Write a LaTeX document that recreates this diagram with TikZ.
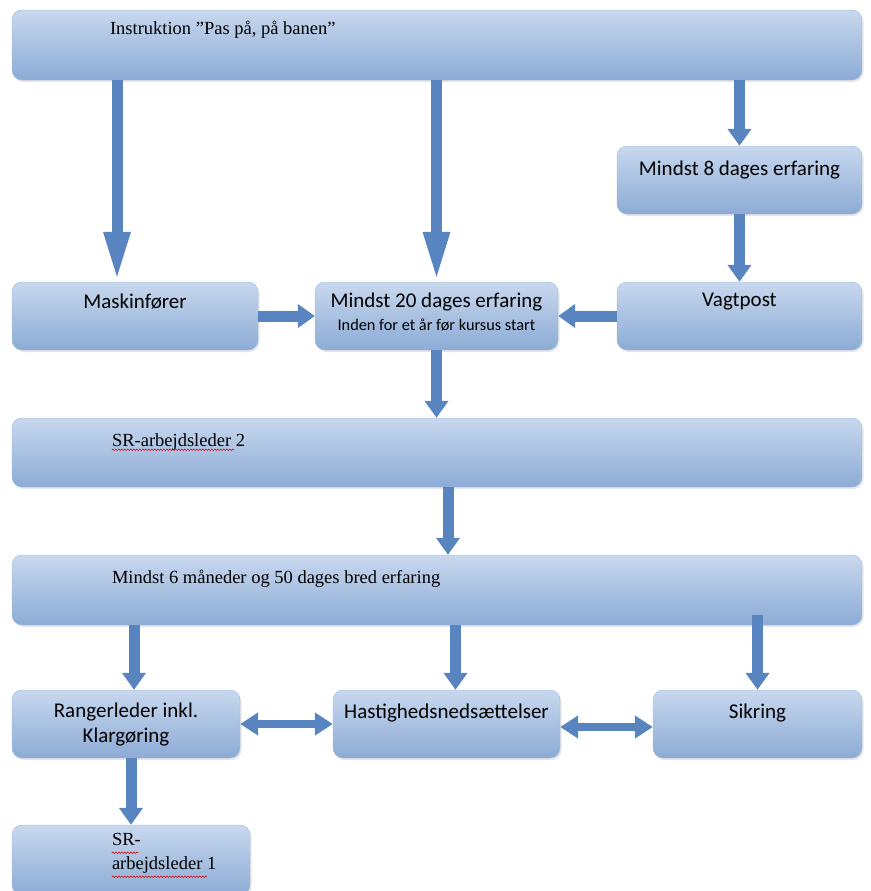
\documentclass[tikz,border=0pt]{standalone}
\usepackage{fontspec}
\setmainfont{Carlito}
\newfontfamily\wordserif{Liberation Serif}
\usetikzlibrary{arrows.meta,positioning,calc,shadows,decorations.pathmorphing}

\definecolor{boxtop}{RGB}{200,216,238}
\definecolor{boxmid}{RGB}{222,231,243}
\definecolor{boxbot}{RGB}{140,171,213}
\definecolor{boxline}{RGB}{160,186,222}
\definecolor{arrowblue}{RGB}{88,132,192}

\tikzstyle{stepbox}=[draw=boxline,rounded corners=10pt,top color=boxtop,middle color=boxmid,bottom color=boxbot,drop shadow={opacity=0.2,shadow xshift=1.5pt,shadow yshift=-2pt}]
\tikzstyle{sanstext}=[font=\fontsize{21}{25}\selectfont,inner sep=0pt,align=center]
\tikzstyle{smalltext}=[font=\fontsize{16.3}{19}\selectfont,inner sep=0pt]
\tikzstyle{seriftext}=[font=\wordserif\fontsize{18.5}{24}\selectfont,inner sep=0pt,anchor=west,align=left]
\tikzstyle{flow}=[draw=arrowblue,line width=11pt,-{Triangle[length=17pt,width=23pt]}]
\tikzstyle{longflow}=[draw=arrowblue,line width=11pt,-{Triangle[length=50pt,width=24pt]}]
\tikzstyle{sideflow}=[draw=arrowblue,line width=8pt,{Triangle[length=18pt,width=22pt]}-{Triangle[length=18pt,width=22pt]}]
\tikzstyle{spellmark}=[draw=red!85!black,line width=0.5pt,decorate,decoration={snake,amplitude=0.8pt,segment length=3pt}]

\begin{document}
\begin{tikzpicture}[x=1pt,y=-1pt]
    \useasboundingbox (0,0) rectangle (870,891);

    % boxes
    \node [stepbox,minimum width=850pt,minimum height=70pt] (instr) at (437,45) {};
    \node [stepbox,minimum width=245pt,minimum height=68pt] (days8) at (739.5,180) {};
    \node [stepbox,minimum width=246pt,minimum height=68pt] (mask) at (135,316) {};
    \node [stepbox,minimum width=243pt,minimum height=68pt] (days20) at (436.5,316) {};
    \node [stepbox,minimum width=245pt,minimum height=68pt] (guard) at (739.5,316) {};
    \node [stepbox,minimum width=850pt,minimum height=69pt] (sr2) at (437,452.5) {};
    \node [stepbox,minimum width=850pt,minimum height=70pt] (broad) at (437,590) {};
    \node [stepbox,minimum width=228pt,minimum height=68pt] (ranger) at (126,724) {};
    \node [stepbox,minimum width=227pt,minimum height=68pt] (speed) at (446.5,724) {};
    \node [stepbox,minimum width=209pt,minimum height=68pt] (secure) at (757.5,724) {};
    \node [stepbox,minimum width=238pt,minimum height=70pt] (sr1) at (131,860) {};

    % texts
    \node [seriftext] (instrtxt) at ($(instr.north west)+(98,20)$) {Instruktion ”Pas på, på banen”};
    \node [sanstext] at ($(days8.north)+(0,24)$) {Mindst 8 dages erfaring};
    \node [sanstext] at ($(mask.north)+(0,20)$) {Maskinfører};
    \node [sanstext] at ($(days20.north)+(0,20)$) {Mindst 20 dages erfaring};
    \node [smalltext] at ($(days20.north)+(0,43)$) {Inden for et år før kursus start};
    \node [sanstext] at ($(guard.north)+(0,20)$) {Vagtpost};
    \node [seriftext] (sr2txt) at ($(sr2.north west)+(100,24)$) {SR-arbejdsleder 2};
    \node [seriftext] (broadtxt) at ($(broad.north west)+(100,24)$) {Mindst 6 måneder og 50 dages bred erfaring};
    \node [sanstext] at ($(ranger.north)+(0,35)$) {Rangerleder inkl.\\Klargøring};
    \node [sanstext] at ($(speed.north)+(0,23)$) {Hastighedsnedsættelser};
    \node [sanstext] at ($(secure.north)+(0,23)$) {Sikring};
    \node [seriftext,anchor=north west] (sr1txt) at ($(sr1.north west)+(100,8)$) {SR-\\arbejdsleder 1};

    % spelling marks
    \draw [spellmark] ($(sr2txt.west)+(0,8)$) -- ++(122,0);
    \draw [spellmark] ($(sr1txt.north west)+(0,20)$) -- ++(27,0);
    \draw [spellmark] ($(sr1txt.north west)+(0,44)$) -- ++(95,0);

    % arrows
    \coordinate (maskin) at ($(mask.north)+(-18,0)$);
    \draw [longflow] (maskin |- instr.south) -- (maskin);
    \draw [longflow] (days20.north |- instr.south) -- (days20.north);
    \draw [flow] (days8.north |- instr.south) -- (days8.north);
    \draw [flow] (days8.south) -- (guard.north);
    \draw [flow] (mask.east) -- (days20.west);
    \draw [flow] (guard.west) -- (days20.east);
    \draw [flow] (days20.south) -- (days20.south |- sr2.north);
    \coordinate (broadin) at ($(broad.north)+(11,0)$);
    \draw [flow] (broadin |- sr2.south) -- (broadin);
    \coordinate (rangin) at ($(ranger.north)+(8,0)$);
    \draw [flow] (rangin |- broad.south) -- (rangin);
    \coordinate (speedin) at ($(speed.north)+(9,0)$);
    \draw [flow] (speedin |- broad.south) -- (speedin);
    \draw [flow] ($(secure.north |- broad.south)+(0,-10)$) -- (secure.north);
    \draw [flow] (sr1.north |- ranger.south) -- (sr1.north);
    \draw [sideflow] (ranger.east) -- (speed.west);
    \draw [sideflow] ($(speed.east)+(0,3)$) -- ($(secure.west)+(0,3)$);
\end{tikzpicture}
\end{document}
